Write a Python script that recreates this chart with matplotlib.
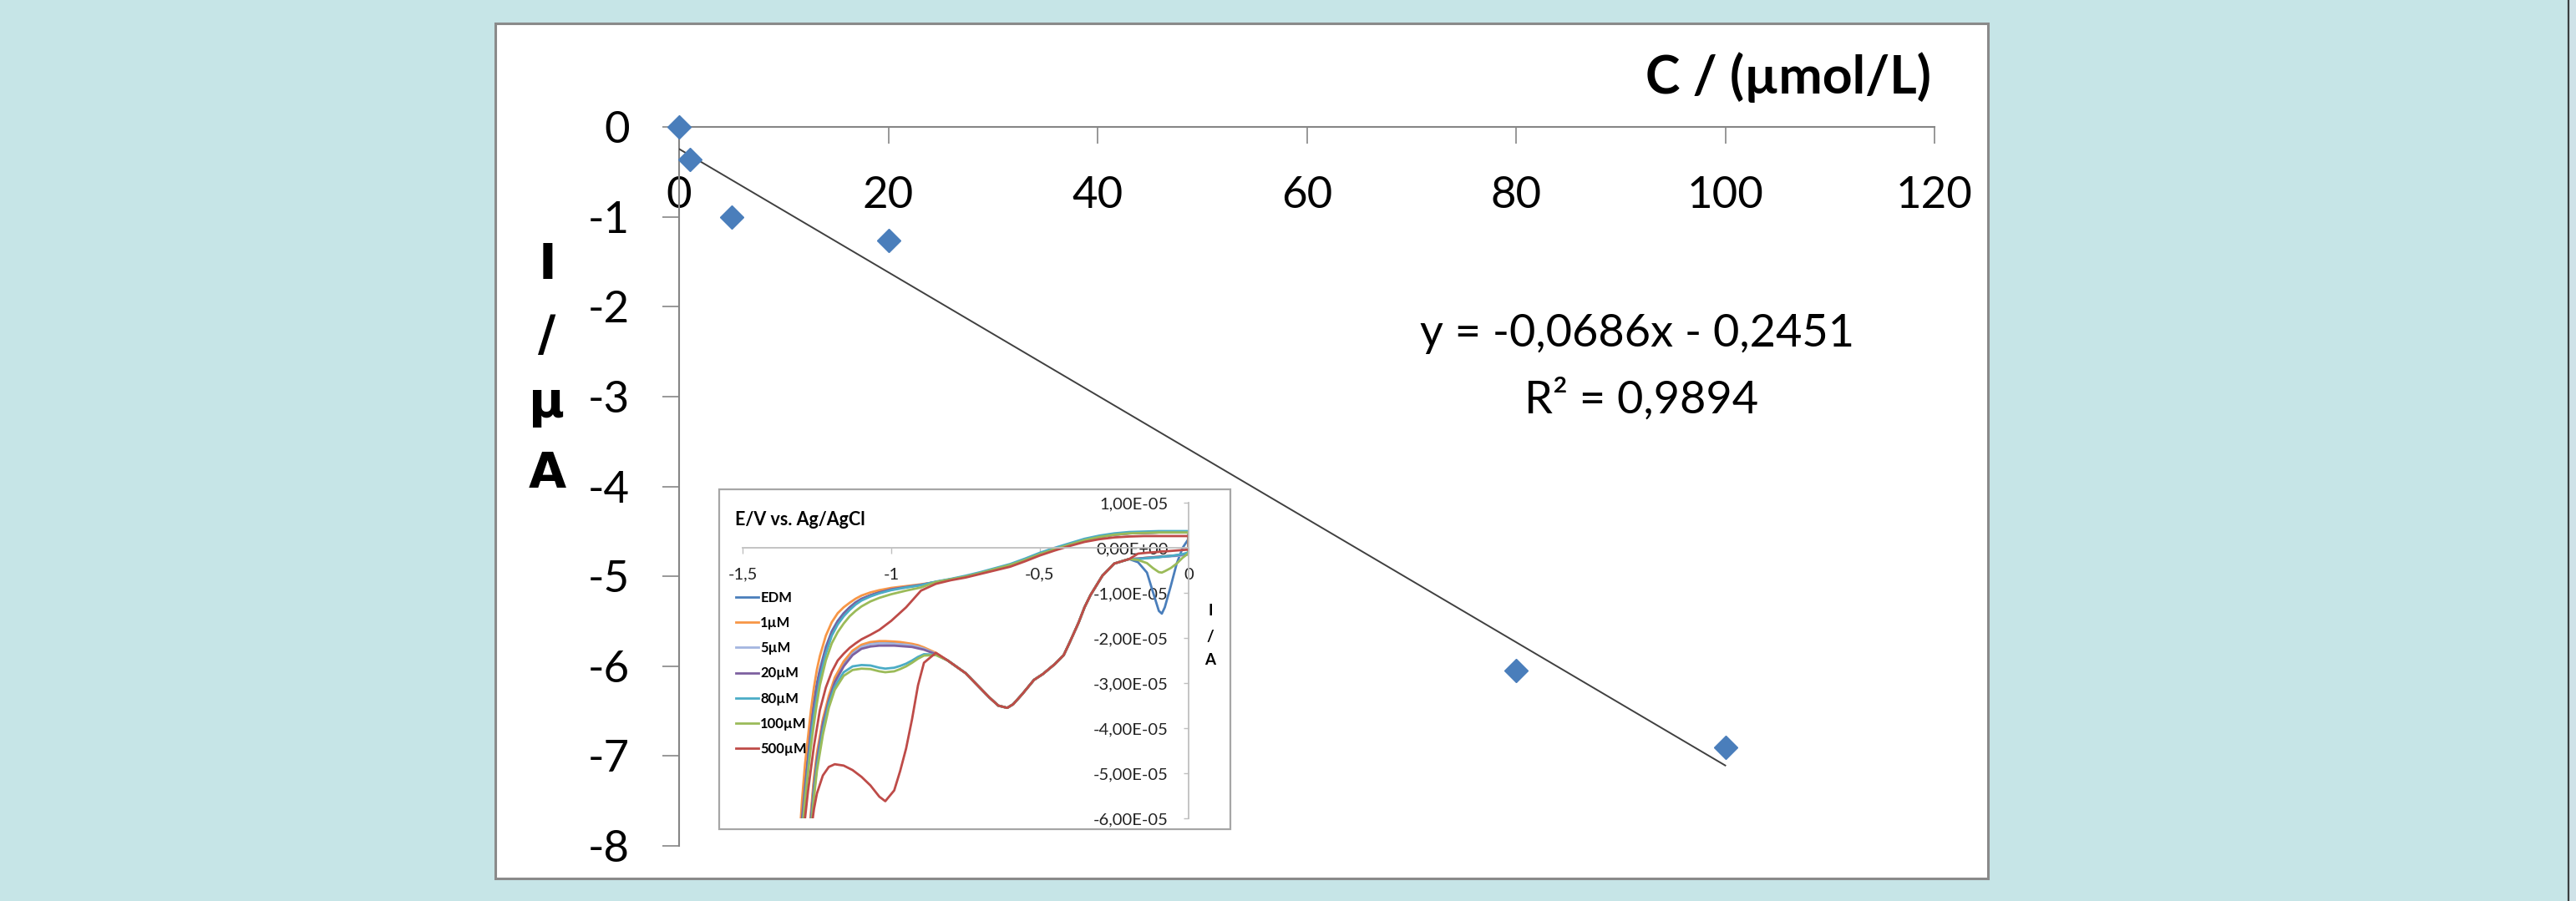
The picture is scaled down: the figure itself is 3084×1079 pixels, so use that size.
import matplotlib
matplotlib.use("Agg")
import matplotlib.pyplot as plt
from matplotlib.patches import Rectangle
from matplotlib.lines import Line2D
import numpy as np

plt.rcParams['font.family'] = ['Lato', 'DejaVu Sans']

# ---------------- main calibration data ----------------
conc = [0, 1, 5, 20, 80, 100]               # µmol/L
current = [0.0, -0.36, -1.0, -1.26, -6.05, -6.9]  # µA
slope = -0.0686
intercept = -0.2451
r2 = 0.9894
x_ticks = [0, 20, 40, 60, 80, 100, 120]
x_ticklabels = ["0", "20", "40", "60", "80", "100", "120"]
y_ticks = [0, -1, -2, -3, -4, -5, -6, -7, -8]
y_ticklabels = ["0", "-1", "-2", "-3", "-4", "-5", "-6", "-7", "-8"]

# ---------------- inset CV data (E in V, I in 1e-5 A) ----------------
cv_labels = ["EDM", "1µM", "5µM", "20µM", "80µM", "100µM", "500µM"]
cv_colors = ["#4A7EBB", "#F79646", "#A3B6E0", "#7D60A0", "#4BACC6", "#9BBB59", "#BE4B48"]

fwd_head_E = [0.00, -0.02, -0.04, -0.06, -0.08, -0.09, -0.10, -0.12, -0.14, -0.17]
fwd_mid_E = [-0.20, -0.25, -0.29, -0.33, -0.35, -0.37, -0.40, -0.42, -0.45, -0.49,
             -0.52, -0.56, -0.59, -0.61, -0.64, -0.67, -0.71, -0.75, -0.81]
fwd_tail_E = [-0.85, -0.89, -0.91, -0.93, -0.95, -0.97, -0.99, -1.02, -1.04, -1.07,
              -1.10, -1.13, -1.16, -1.19, -1.21, -1.23, -1.25, -1.26, -1.27, -1.28]
rev_low_E = [-1.31, -1.30, -1.29, -1.28, -1.27, -1.26, -1.25, -1.24, -1.22, -1.20,
             -1.18, -1.16, -1.14, -1.12, -1.10, -1.07, -1.04, -1.00, -0.95, -0.90]
rev_high_E = [-0.85, -0.80, -0.75, -0.70, -0.65, -0.60, -0.55, -0.50, -0.45, -0.40,
              -0.35, -0.30, -0.25, -0.20, -0.15, -0.10, -0.05, 0.00]

fwd_mid_I = [-0.25, -0.35, -0.62, -1.05, -1.32, -1.66, -2.10, -2.38, -2.58, -2.80,
             -2.93, -3.25, -3.47, -3.55, -3.50, -3.32, -3.05, -2.78, -2.50]

head_EDM = [0.20, 0.00, -0.35, -0.85, -1.32, -1.46, -1.40, -0.98, -0.55, -0.32]
head_1 = [-0.14, -0.16, -0.17, -0.18, -0.19, -0.19, -0.20, -0.21, -0.22, -0.24]
head_5 = [-0.15, -0.17, -0.18, -0.19, -0.20, -0.20, -0.21, -0.22, -0.23, -0.24]
head_20 = [-0.13, -0.15, -0.17, -0.18, -0.19, -0.19, -0.20, -0.21, -0.22, -0.24]
head_80 = [-0.10, -0.14, -0.16, -0.18, -0.19, -0.20, -0.21, -0.22, -0.23, -0.25]
head_100 = [-0.12, -0.22, -0.35, -0.45, -0.52, -0.55, -0.54, -0.45, -0.34, -0.27]
head_500 = [-0.04, -0.05, -0.06, -0.07, -0.08, -0.08, -0.09, -0.10, -0.11, -0.13]

tail_EDM = [-2.35, -2.24, -2.20, -2.17, -2.15, -2.13, -2.12, -2.11, -2.10, -2.12,
            -2.18, -2.32, -2.58, -2.94, -3.35, -3.85, -4.65, -5.20, -5.95, -6.80]
tail_1 = [-2.33, -2.21, -2.16, -2.13, -2.11, -2.09, -2.08, -2.07, -2.07, -2.09,
          -2.15, -2.28, -2.52, -2.88, -3.28, -3.80, -4.55, -5.10, -5.85, -6.70]
tail_5 = [-2.35, -2.24, -2.20, -2.17, -2.15, -2.14, -2.13, -2.12, -2.12, -2.14,
          -2.20, -2.35, -2.62, -3.00, -3.42, -3.95, -4.75, -5.35, -6.10, -6.90]
tail_20 = [-2.36, -2.26, -2.23, -2.20, -2.19, -2.18, -2.17, -2.17, -2.17, -2.19,
           -2.24, -2.38, -2.63, -2.98, -3.38, -3.90, -4.70, -5.28, -6.00, -6.85]
tail_80 = [-2.37, -2.36, -2.42, -2.50, -2.57, -2.62, -2.66, -2.68, -2.66, -2.61,
           -2.60, -2.63, -2.76, -3.08, -3.45, -4.05, -4.85, -5.45, -6.15, -7.00]
tail_100 = [-2.38, -2.39, -2.46, -2.55, -2.63, -2.69, -2.74, -2.76, -2.74, -2.69,
            -2.68, -2.71, -2.84, -3.15, -3.55, -4.15, -4.95, -5.55, -6.25, -7.05]
tail_500 = [-2.33, -2.55, -3.05, -3.80, -4.45, -4.95, -5.38, -5.62, -5.52, -5.27,
            -5.08, -4.93, -4.83, -4.80, -4.86, -5.05, -5.45, -5.80, -6.30, -7.00]

rlow_EDM = [-7.0, -6.0, -5.2, -4.6, -3.9, -3.4, -3.0, -2.7, -2.2, -1.85,
            -1.62, -1.45, -1.32, -1.21, -1.13, -1.05, -0.98, -0.92, -0.87, -0.82]
rlow_1 = [-6.6, -5.6, -4.8, -4.2, -3.6, -3.1, -2.7, -2.4, -1.95, -1.65,
          -1.45, -1.32, -1.22, -1.13, -1.06, -0.99, -0.94, -0.89, -0.85, -0.81]
rlow_5 = [-7.2, -6.2, -5.4, -4.8, -4.1, -3.6, -3.2, -2.85, -2.3, -1.92,
          -1.68, -1.50, -1.36, -1.24, -1.15, -1.07, -1.00, -0.93, -0.88, -0.83]
rlow_20 = [-7.0, -6.0, -5.3, -4.7, -4.0, -3.5, -3.1, -2.75, -2.25, -1.88,
           -1.64, -1.47, -1.33, -1.22, -1.14, -1.06, -0.99, -0.92, -0.87, -0.82]
rlow_80 = [-7.3, -6.3, -5.5, -4.9, -4.2, -3.7, -3.3, -2.9, -2.35, -1.95,
           -1.70, -1.52, -1.38, -1.26, -1.17, -1.08, -1.01, -0.94, -0.88, -0.83]
rlow_100 = [-7.4, -6.4, -5.6, -5.0, -4.4, -3.9, -3.45, -3.05, -2.5, -2.12,
            -1.87, -1.68, -1.52, -1.40, -1.30, -1.19, -1.11, -1.03, -0.95, -0.88]
rlow_500 = [-7.0, -6.6, -6.0, -5.4, -4.9, -4.4, -4.0, -3.6, -3.1, -2.75,
            -2.5, -2.35, -2.22, -2.12, -2.03, -1.93, -1.82, -1.62, -1.32, -0.95]

rhigh_common = [-0.76, -0.70, -0.64, -0.56, -0.47, -0.38, -0.27, -0.14, -0.03, 0.07,
                0.17, 0.24, 0.29, 0.32, 0.33, 0.34, 0.34, 0.34]
rhigh_80 = [-0.75, -0.69, -0.62, -0.54, -0.45, -0.36, -0.24, -0.11, 0.00, 0.10,
            0.20, 0.27, 0.32, 0.35, 0.36, 0.37, 0.37, 0.37]
rhigh_500 = [-0.80, -0.72, -0.66, -0.58, -0.50, -0.42, -0.30, -0.17, -0.06, 0.04,
             0.13, 0.19, 0.23, 0.25, 0.26, 0.26, 0.26, 0.26]

cv_heads = [head_EDM, head_1, head_5, head_20, head_80, head_100, head_500]
cv_tails = [tail_EDM, tail_1, tail_5, tail_20, tail_80, tail_100, tail_500]
cv_rlows = [rlow_EDM, rlow_1, rlow_5, rlow_20, rlow_80, rlow_100, rlow_500]
cv_rhighs = [rhigh_common, rhigh_common, rhigh_common, rhigh_common, rhigh_80, rhigh_common, rhigh_500]

inset_xticks = [-1.5, -1.0, -0.5, 0.0]
inset_xticklabels = ["-1,5", "-1", "-0,5", "0"]
inset_yticks = [1e-5, 0, -1e-5, -2e-5, -3e-5, -4e-5, -5e-5, -6e-5]
inset_yticklabels = ["1,00E-05", "0,00E+00", "-1,00E-05", "-2,00E-05",
                     "-3,00E-05", "-4,00E-05", "-5,00E-05", "-6,00E-05"]

# ---------------- figure ----------------
W, H = 3084, 1079
fig = plt.figure(figsize=(W / 100, H / 100), dpi=100)
fig.patch.set_facecolor("#C6E5E7")

def fx(px):
    return px / W

def fy(py):
    return 1 - py / H

# white chart panel
fig.add_artist(Rectangle((fx(593), fy(1052)), fx(2380) - fx(593), fy(28) - fy(1052),
                         transform=fig.transFigure, facecolor="white",
                         edgecolor="#8A8A8A", lw=2.2, zorder=-1))
# right edge strip
fig.add_artist(Rectangle((fx(3076), 0), 1 - fx(3076), 1, transform=fig.transFigure,
                         facecolor="#CFE2E8", edgecolor="none", zorder=-1))
fig.add_artist(Line2D([fx(3075), fx(3075)], [0, 1], transform=fig.transFigure,
                      color="#3A3F40", lw=1.6, zorder=-1))

# ---------------- main axes ----------------
ax = fig.add_axes([fx(813), fy(1013), fx(2316) - fx(813), fy(152) - fy(1013)])
ax.patch.set_visible(False)
ax.set_xlim(0, 120)
ax.set_ylim(-8, 0)
for s in ["top", "right"]:
    ax.spines[s].set_visible(False)
ax.spines["bottom"].set_position(("data", 0))
for s in ["bottom", "left"]:
    ax.spines[s].set_color("#868686")
    ax.spines[s].set_linewidth(1.5)
ax.set_xticks(x_ticks)
ax.set_xticklabels(x_ticklabels)
ax.set_yticks(y_ticks)
ax.set_yticklabels(y_ticklabels)
ax.tick_params(axis="both", direction="out", length=14.5, width=1.2, color="#868686",
               labelcolor="black", labelsize=38, pad=28)

ax.plot(conc, current, linestyle="none", marker="D", ms=14.5, color="#4A7EBB",
        mec="#4A7EBB", clip_on=False, zorder=5)
xs = np.array([0, 100])
ax.plot(xs, slope * xs + intercept, color="#404040", lw=1.4, zorder=4)

fig.text(fx(1960), fy(399), "y = -0,0686x - 0,2451", ha="center", va="center", fontsize=39)
fig.text(fx(1965), fy(478), "R² = 0,9894", ha="center", va="center", fontsize=39)

fig.text(fx(2312), fy(112), "C / (µmol/L)", ha="right", va="baseline", fontsize=45,
         fontweight="bold")

for ch, base in zip(["I", "/", "µ", "A"], [334, 420, 500, 584]):
    fig.text(fx(655), fy(base), ch, ha="center", va="baseline", fontsize=42,
             fontweight="bold", family=["DejaVu Sans"])

# ---------------- inset ----------------
fig.add_artist(Rectangle((fx(861), fy(993)), fx(1473) - fx(861), fy(586) - fy(993),
                         transform=fig.transFigure, facecolor="white",
                         edgecolor="#A6A6A6", lw=1.6, zorder=1))

ax2 = fig.add_axes([fx(889), fy(980), fx(1423) - fx(889), fy(602) - fy(980)], zorder=2)
ax2.patch.set_visible(False)
ax2.set_xlim(-1.5, 0)
ax2.set_ylim(-6e-5, 1e-5)
for s in ["top", "right"]:
    ax2.spines[s].set_visible(False)
ax2.spines["left"].set_position(("data", 0))
ax2.spines["bottom"].set_position(("data", 0))
for s in ["bottom", "left"]:
    ax2.spines[s].set_color("#BFBFBF")
    ax2.spines[s].set_linewidth(1.3)
ax2.set_xticks(inset_xticks)
ax2.set_xticklabels(inset_xticklabels)
ax2.set_yticks(inset_yticks)
ax2.set_yticklabels(inset_yticklabels)
ax2.tick_params(axis="x", direction="out", length=5, width=1.0, color="#BFBFBF",
                labelcolor="#222222", labelsize=14.5, pad=12)
ax2.tick_params(axis="y", direction="out", length=4.5, width=1.0, color="#BFBFBF",
                labelcolor="#222222", labelsize=14.5, pad=13)

handles = []
for lab, col, hd, tl, rl, rh in zip(cv_labels, cv_colors, cv_heads, cv_tails, cv_rlows, cv_rhighs):
    E = fwd_head_E + fwd_mid_E + fwd_tail_E + rev_low_E + rev_high_E + [fwd_head_E[0]]
    I = hd + fwd_mid_I + tl + rl + rh + [hd[0]]
    h, = ax2.plot(E, np.array(I) * 1e-5, color=col, lw=2.0, label=lab,
                  solid_joinstyle="round")
    handles.append(h)

ax2.legend(handles=handles, loc="upper left", bbox_to_anchor=(fx(881), fy(708)),
           bbox_transform=fig.transFigure, frameon=False,
           prop={"family": ["Lato", "DejaVu Sans"], "weight": "bold", "size": 12},
           handlelength=1.6, handletextpad=0.15, labelspacing=0.85,
           borderpad=0, borderaxespad=0)

fig.text(fx(880), fy(629), "E/V vs. Ag/AgCl", ha="left", va="baseline", fontsize=15.5,
         fontweight="bold", zorder=3)
for ch, base in zip(["I", "/", "A"], [737, 768, 796]):
    fig.text(fx(1449), fy(base), ch, ha="center", va="baseline", fontsize=13.5,
             fontweight="bold", zorder=3)

fig.savefig("out.png", dpi=100, facecolor=fig.get_facecolor())
